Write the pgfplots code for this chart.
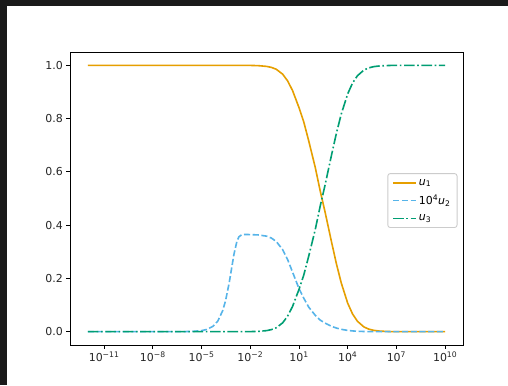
\documentclass[border=0pt]{standalone}
\usepackage{fontspec}
\setmainfont{DejaVu Sans}
\usepackage{pgfplots}
\usepackage{pgfplotstable}
\pgfplotsset{compat=1.18}
\definecolor{figdark}{HTML}{1A1A1A}
\definecolor{cOrange}{HTML}{E69F00}
\definecolor{cSky}{HTML}{56B4E9}
\definecolor{cGreen}{HTML}{009E73}
\pgfplotstableread{
t u1 u2s u3
1e-12 1 0 0
1e-9 1 0 0
1e-7 1 0.00004 0
1e-6 1 0.0004 0
3e-6 1 0.0012 0
1e-5 1 0.0040 0
2e-5 1 0.0080 0
5e-5 1 0.0200 0
1e-4 1 0.0398 0
2e-4 1 0.0787 0.0000003
3e-4 1 0.1158 0.000001
5e-4 1 0.1821 0.000003
7e-4 1 0.2355 0.000006
1e-3 0.99996 0.2918 0.000011
1.5e-3 0.99994 0.3388 0.000027
2e-3 0.99991 0.3561 0.000046
3e-3 0.99987 0.3641 0.000084
5e-3 0.99979 0.3650 0.00016
1e-2 0.99960 0.3645 0.00036
3e-2 0.99880 0.3632 0.00116
0.1 0.99600 0.3587 0.00396
0.2 0.99220 0.3515 0.00777
0.4 0.98517 0.3386 0.01479
1 0.96646 0.3075 0.03351
2 0.94137 0.2707 0.05860
4 0.90552 0.2240 0.09446
10 0.84136 0.1620 0.15862
20 0.78600 0.1250 0.21399
40 0.71583 0.0919 0.28416
100 0.61723 0.0615 0.38276
200 0.53000 0.0439 0.47000
400 0.45052 0.0322 0.54948
1000 0.33800 0.0203 0.66200
2000 0.25600 0.0137 0.74400
4000 0.18321 0.00894 0.81679
1e4 0.10700 0.00480 0.89300
2e4 0.06630 0.00284 0.93370
4e4 0.03898 0.00162 0.96102
1e5 0.01780 0.000725 0.98220
2e5 0.00950 0.00038 0.99050
4e5 0.00494 0.000198 0.99506
1e6 0.00203 0.000081 0.99797
4e6 0.000517 0.0000207 0.99948
1e7 0.000209 0.0000084 0.99979
1e8 0.0000208 0.0000008 0.99998
1e9 0.0000021 0 1
1e10 0.0000002 0 1
}\datatable
\begin{document}
\begin{tikzpicture}[x=1bp,y=1bp]
\fill[white] (0,0) rectangle (508,385);
\fill[figdark] (0,379) rectangle (508,385);
\fill[figdark] (0,0) rectangle (7,385);
\begin{axis}[
  at={(70bp,40bp)}, anchor=south west,
  scale only axis, width=393bp, height=293bp,
  xmode=log, xmin=7.94e-14, xmax=1.26e11,
  ymin=-0.05, ymax=1.05,
  xtick={1e-11,1e-8,1e-5,1e-2,1e1,1e4,1e7,1e10},
  xticklabels={10\textsuperscript{−11},10\textsuperscript{−8},10\textsuperscript{−5},10\textsuperscript{−2},10\textsuperscript{1},10\textsuperscript{4},10\textsuperscript{7},10\textsuperscript{10}},
  xminorticks=false,
  ytick={0,0.2,0.4,0.6,0.8,1.0},
  yticklabel style={/pgf/number format/fixed,/pgf/number format/fixed zerofill,/pgf/number format/precision=1},
  /pgf/number format/assume math mode=true,
  tick label style={font=\fontsize{11}{13}\selectfont, text=black!85},
  xticklabel style={inner sep=2.5bp},
  yticklabel style={inner sep=3bp},
  tick align=outside, tick pos=left,
  major tick length=3.9bp,
  tick style={black, line width=0.9bp},
  axis line style={black, line width=0.9bp},
  legend style={at={(0.986,0.493)}, anchor=east, draw=black!20, line width=0.9bp, rounded corners=2.5bp, fill=white,
    font=\fontsize{11}{13}\selectfont, inner xsep=4.5bp, inner ysep=3.5bp, row sep=4.5bp, cells={anchor=west}},
  legend image code/.code={\draw[#1] (0bp,0bp) -- (23bp,0bp);},
]
\addplot[cOrange, line width=1.6bp] table[x=t, y=u1] {\datatable};
\addlegendentry{\textit{u}\textsubscript{1}}
\addplot[cSky, line width=1.6bp, dash pattern=on 6.1bp off 2.6bp] table[x=t, y=u2s] {\datatable};
\addlegendentry{10\textsuperscript{4}\textit{u}\textsubscript{2}}
\addplot[cGreen, line width=1.6bp, dash pattern=on 10.6bp off 2.6bp on 1.65bp off 2.6bp] table[x=t, y=u3] {\datatable};
\addlegendentry{\textit{u}\textsubscript{3}}
\end{axis}
\end{tikzpicture}
\end{document}
